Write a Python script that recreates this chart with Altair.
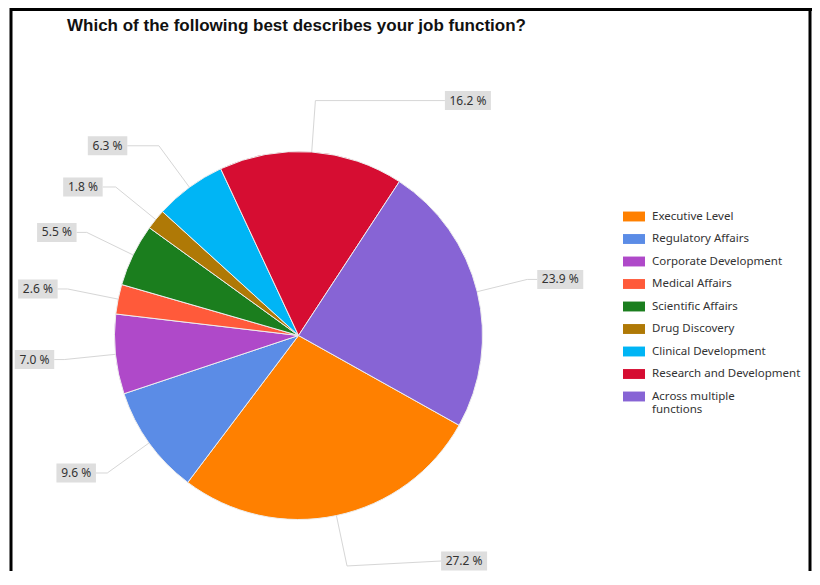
import math
import altair as alt
import pandas as pd

categories = ["Executive Level", "Regulatory Affairs", "Corporate Development",
              "Medical Affairs", "Scientific Affairs", "Drug Discovery",
              "Clinical Development", "Research and Development",
              "Across multiple functions"]
values = [27.2, 9.6, 7.0, 2.6, 5.5, 1.8, 6.3, 16.2, 23.9]
colors = ["#FF8000", "#5B8CE6", "#AF49C9", "#FF5A3A", "#1B7E1E",
          "#AF7906", "#00B5F5", "#D60D32", "#8764D5"]
title_text = "Which of the following best describes your job function?"

df = pd.DataFrame({
    "category": categories,
    "value": values,
    "idx": list(range(len(values))),
    "label": [f"{v:.1f} %" for v in values],
})

W, H = 804, 563
CX, CY, R = 290.5, 327.5, 184
START = math.radians(119.2)
ER = R * 1.28
FONT = "Noto Sans"

base = (
    alt.Chart(df)
    .transform_joinaggregate(total="sum(value)")
    .transform_window(cum="sum(value)", sort=[alt.SortField("idx")], frame=[None, 0])
    .transform_calculate(mid=f"{START} + 2*PI*(datum.cum - datum.value/2)/datum.total")
    .transform_calculate(s="sin(datum.mid)")
    .transform_calculate(c="cos(datum.mid)")
    .transform_calculate(ax=f"{CX} + {R}*datum.s")
    .transform_calculate(ay=f"{CY} - {R}*datum.c")
    .transform_calculate(ex=f"{CX} + {ER}*datum.s")
    .transform_calculate(ey=f"{CY} - {ER}*datum.c")
    .transform_calculate(side="datum.s >= 0 ? 1 : -1")
    .transform_calculate(hl="10 + (datum.c > 0 ? 122 : 100)*pow(abs(datum.c), 8)")
    .transform_calculate(w="7 + 6.5*length(datum.label)")
    .transform_calculate(lx="datum.ex + datum.side*datum.hl")
    .transform_calculate(bx="datum.lx + datum.side*datum.w")
    .transform_calculate(tx="datum.lx + datum.side*datum.w/2")
    .transform_calculate(by=f"min(datum.ey, {H} - 10)")
    .transform_calculate(by0="datum.by - 9.5")
    .transform_calculate(by1="datum.by + 9.5")
)

X = lambda f: alt.X(f"{f}:Q", scale=None, axis=None)
Y = lambda f: alt.Y(f"{f}:Q", scale=None, axis=None)

seg1 = base.mark_rule(color="#d6d6d6", strokeWidth=1).encode(
    x=X("ax"), y=Y("ay"), x2="ex:Q", y2="ey:Q")
seg2 = base.mark_rule(color="#d6d6d6", strokeWidth=1).encode(
    x=X("ex"), y=Y("ey"), x2="lx:Q", y2="by:Q")
box = base.mark_rect(fill="#dedede").encode(
    x=X("lx"), x2="bx:Q", y=Y("by0"), y2="by1:Q")
txt = base.mark_text(font=FONT, fontSize=12, color="#333333",
                     align="center", baseline="middle").encode(
    x=X("tx"), y=Y("by"), text="label:N")

arcs = alt.Chart(df).mark_arc(outerRadius=R, stroke="#eeeeee", strokeWidth=1).encode(
    theta=alt.Theta("value:Q", stack=True,
                    scale=alt.Scale(range=[START, START + 2 * math.pi])),
    order=alt.Order("idx:Q"),
    color=alt.Color(
        "category:N",
        scale=alt.Scale(domain=categories, range=colors),
        legend=alt.Legend(
            orient="none", legendX=615, legendY=197.5, title=None,
            symbolType="M-1,-0.45L1,-0.45L1,0.45L-1,0.45Z",
            symbolSize=484, symbolStrokeWidth=0,
            labelFont=FONT, labelFontSize=11.5, labelColor="#333333",
            labelOffset=7, labelLimit=0, rowPadding=5.5,
            labelExpr="datum.label == 'Across multiple functions' ? ['Across multiple', 'functions'] : datum.label",
        ),
    ),
    x=alt.value(CX),
    y=alt.value(CY),
)

one = pd.DataFrame({"k": [0]})
frame_left = alt.Chart(one).mark_rule(color="black", strokeWidth=3).encode(
    x=alt.value(3), y=alt.value(0), y2=alt.value(H))
frame_top = alt.Chart(one).mark_rule(color="black", strokeWidth=3).encode(
    x=alt.value(2), x2=alt.value(W), y=alt.value(1.5))
frame_right = alt.Chart(one).mark_rule(color="black", strokeWidth=3).encode(
    x=alt.value(W - 2), y=alt.value(0), y2=alt.value(H))
title = alt.Chart(one).mark_text(
    text=title_text, font="Liberation Sans", fontSize=17, fontWeight="bold",
    align="left", baseline="middle", color="#111111").encode(
    x=alt.value(59), y=alt.value(18))

chart = alt.layer(
    arcs, seg1, seg2, box, txt, title, frame_left, frame_top, frame_right
).properties(
    width=W, height=H, padding=0,
    autosize=alt.AutoSizeParams(type="none"),
    background="white",
).configure_view(stroke=None)

chart.save("out.html", embed_options={"renderer": "svg", "actions": False})
